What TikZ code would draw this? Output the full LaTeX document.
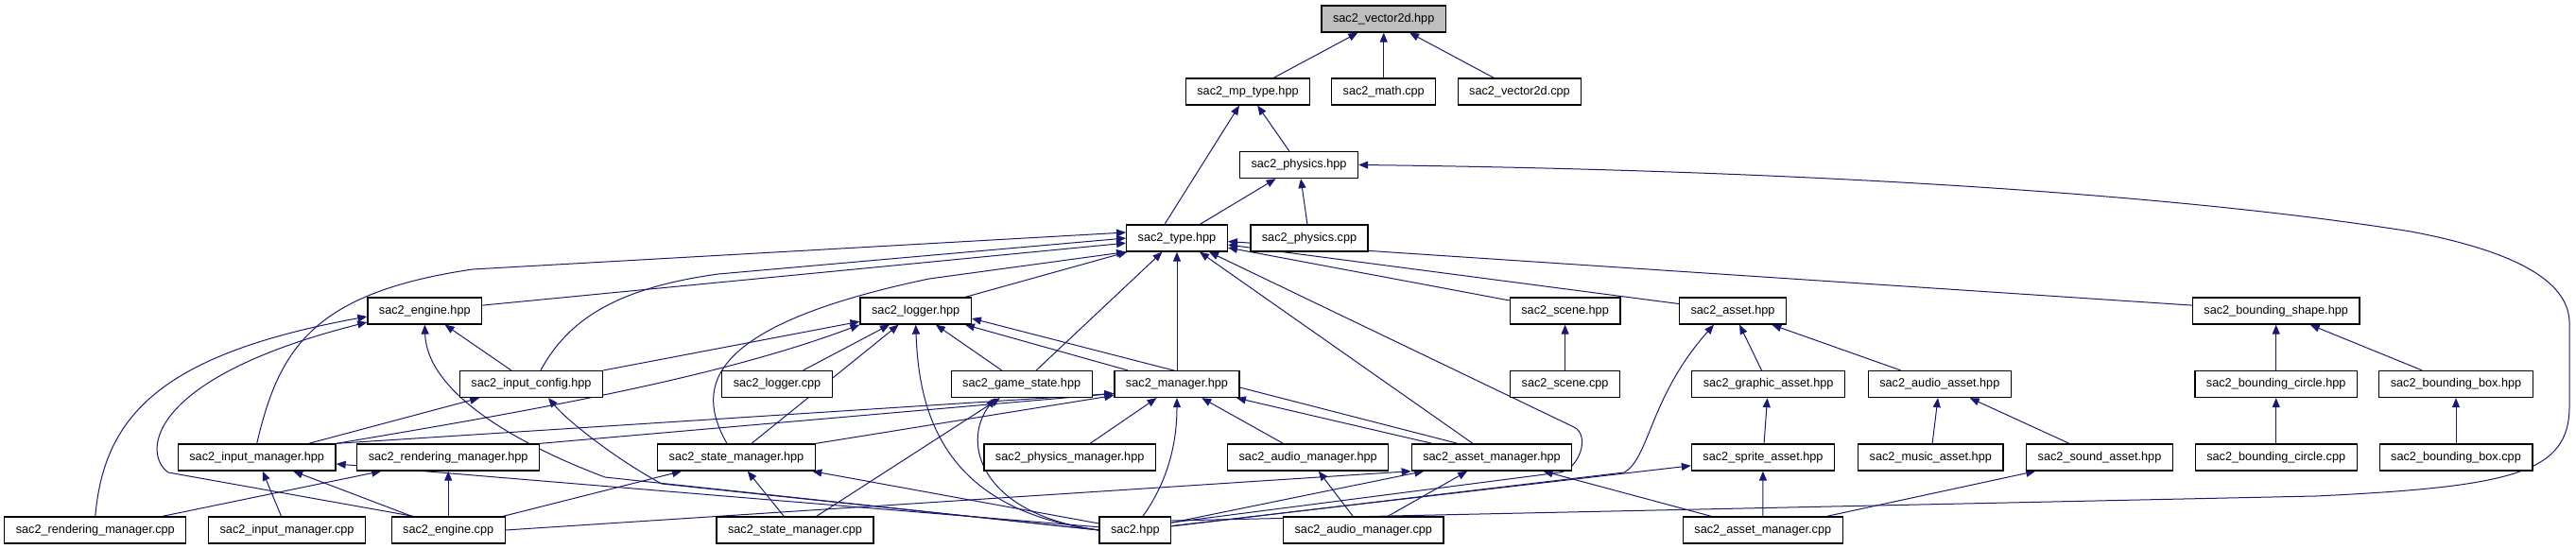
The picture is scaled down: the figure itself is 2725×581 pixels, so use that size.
\documentclass[tikz,border=0pt]{standalone}
\usepackage{fontspec}
\setmainfont{Liberation Sans}
\usetikzlibrary{arrows.meta,backgrounds}

\definecolor{edgeblue}{RGB}{25,25,112}
\definecolor{rootgray}{RGB}{191,191,191}

\begin{document}
\begin{tikzpicture}[
  x=0.5pt, y=-0.5pt,
  file/.style={draw=black, line width=0.65pt, rectangle, fill=white,
               minimum height=14pt, inner xsep=6pt, inner ysep=0pt,
               font=\fontsize{6.35}{7.5}\selectfont},
  root/.style={file, fill=rootgray},
  arr/.style={-{Triangle[length=5pt,width=4pt]}, draw=edgeblue, line width=0.5pt}
]
\useasboundingbox (0,0) rectangle (2725,581);

%% ── nodes ───────────────────────────────────────────────────────────────
\node[root] (vec)   at (1463.7,20)  {sac2\_vector2d.hpp};

\node[file] (mpt)   at (1320,97)    {sac2\_mp\_type.hpp};
\node[file] (math)  at (1463.7,97)  {sac2\_math.cpp};
\node[file] (vcpp)  at (1607.5,97)  {sac2\_vector2d.cpp};

\node[file] (phys)  at (1374,174.5) {sac2\_physics.hpp};

\node[file] (typ)   at (1245,252)   {sac2\_type.hpp};
\node[file] (pcpp)  at (1385,252)   {sac2\_physics.cpp};

% headers under type
\node[file] (eng)   at (449.3,329)  {sac2\_engine.hpp};
\node[file] (log)   at (968.7,329)  {sac2\_logger.hpp};
\node[file] (scn)   at (1655.6,329) {sac2\_scene.hpp};
\node[file] (ast)   at (1833,329)   {sac2\_asset.hpp};
\node[file] (bshp)  at (2407.7,329) {sac2\_bounding\_shape.hpp};

\node[file] (icfg)  at (562,406.5)    {sac2\_input\_config.hpp};
\node[file] (lcpp)  at (822,406.5)    {sac2\_logger.cpp};
\node[file] (gst)   at (1080.7,406.5) {sac2\_game\_state.hpp};
\node[file] (mgr)   at (1245,406.5)   {sac2\_manager.hpp};
\node[file] (scpp)  at (1655.6,406.5) {sac2\_scene.cpp};
\node[file] (gast)  at (1870.6,406.5) {sac2\_graphic\_asset.hpp};
\node[file] (aast)  at (2051.8,406.5) {sac2\_audio\_asset.hpp};
\node[file] (bcir)  at (2407.7,406.5) {sac2\_bounding\_circle.hpp};
\node[file] (bbox)  at (2598,406.5)   {sac2\_bounding\_box.hpp};

% managers and assets
\node[file] (iman)  at (271.7,484)  {sac2\_input\_manager.hpp};
\node[file] (rman)  at (474.2,484)  {sac2\_rendering\_manager.hpp};
\node[file] (sman)  at (779,484)    {sac2\_state\_manager.hpp};
\node[file] (pman)  at (1131.7,484) {sac2\_physics\_manager.hpp};
\node[file] (aman)  at (1383.7,484) {sac2\_audio\_manager.hpp};
\node[file] (asman) at (1578,484)   {sac2\_asset\_manager.hpp};
\node[file] (spr)   at (1865,484)   {sac2\_sprite\_asset.hpp};
\node[file] (mus)   at (2042.3,484) {sac2\_music\_asset.hpp};
\node[file] (snd)   at (2221,484)   {sac2\_sound\_asset.hpp};
\node[file] (bccpp) at (2407.7,484) {sac2\_bounding\_circle.cpp};
\node[file] (bbcpp) at (2598,484)   {sac2\_bounding\_box.cpp};

% bottom row
\node[file] (rmcpp)  at (100.8,561)  {sac2\_rendering\_manager.cpp};
\node[file] (imcpp)  at (303.6,561)  {sac2\_input\_manager.cpp};
\node[file] (ecpp)   at (474.2,561)  {sac2\_engine.cpp};
\node[file] (smcpp)  at (841,561)    {sac2\_state\_manager.cpp};
\node[file] (sac)    at (1200.9,561) {sac2.hpp};
\node[file] (amcpp)  at (1442.3,561) {sac2\_audio\_manager.cpp};
\node[file] (asmcpp) at (1864.8,561) {sac2\_asset\_manager.cpp};

%% ── edges ───────────────────────────────────────────────────────────────
\begin{scope}[on background layer]
% top
\draw[arr] (mpt)  -- (vec);
\draw[arr] (math) -- (vec);
\draw[arr] (vcpp) -- (vec);
\draw[arr] ([xshift=-6.5pt]typ.north) -- ([xshift=-4.5pt]mpt.south);
\draw[arr] (phys) -- (mpt);
\draw[arr] (typ)  -- (phys);
\draw[arr] (pcpp) -- (phys);

% into type
\draw[arr] (eng) -- (typ);
\draw[arr] (iman.north) .. controls (295,370) and (330,310) .. (500,285)
           -- ([yshift=3pt]typ.west);
\draw[arr] ([xshift=5pt]icfg.north) .. controls (600,340) and (650,305) .. (760,290)
           -- (typ.west);
\draw[arr] ([xshift=-5pt]sman.north) .. controls (735,410) and (745,345) .. (983,295)
           -- (typ.south west);
\draw[arr] (log) -- (typ);
\draw[arr] (gst) -- (typ);
\draw[arr] (mgr) -- (typ);
\draw[arr] ([xshift=-10pt]asman.north) -- ([xshift=12pt]typ.south);
\draw[arr] ([yshift=4pt]sac.east) -- (1650,500) .. controls (1670,497) and (1683,461) .. (1665,452)
           -- ([xshift=17pt]typ.south);
\draw[arr] (scn)  -- (typ);
\draw[arr] (ast)  -- (typ);
\draw[arr] (bshp) -- (typ);

% logger
\draw[arr] (icfg) -- (log);
\draw[arr] (iman.north east) .. controls (560,435) and (760,400) .. (log.south west);
\draw[arr] (lcpp) -- (log);
\draw[arr] ([xshift=8pt]sman.north) -- (log);
\draw[arr] (gst) -- (log);
\draw[arr] (mgr) -- (log);
\draw[arr] ([xshift=-18pt]asman.north) -- ([yshift=-4pt]log.east);
\draw[arr] (sac.west) .. controls (1000,540) and (972,440) .. (log.south);

% engine
\draw[arr] (icfg) -- (eng);
\draw[arr] (rmcpp.north) .. controls (110,440) and (170,375) .. ([yshift=-3pt]eng.west);
\draw[arr] ([xshift=-18.5pt]ecpp.north) -- (178,500)
           .. controls (150,480) and (155,400) .. ([yshift=-6pt]eng.west);
\draw[arr] (sac.west) -- (640,505) .. controls (560,475) and (452,420) .. (eng.south);

% input config
\draw[arr] (iman) -- (icfg);
\draw[arr] (sac.west) -- (700,512) .. controls (650,485) and (600,445) .. ([xshift=9pt]icfg.south);

% manager
\draw[arr] (iman.north east) -- ([yshift=-5pt]mgr.west);
\draw[arr] (rman.north east) -- ([yshift=-5pt]mgr.west);
\draw[arr] (sman.north east) -- ([yshift=-6pt]mgr.west);
\draw[arr] (pman)  -- (mgr);
\draw[arr] (aman)  -- (mgr);
\draw[arr] (asman) -- (mgr);
\draw[arr] ([xshift=4pt]sac.north) .. controls (1235,510) and (1245,470) .. (mgr.south);

% game state
\draw[arr] (smcpp) -- (gst);
\draw[arr] (sac.west) .. controls (1040,545) and (1015,470) .. ([xshift=-14pt]gst.south);

% state, input, rendering managers
\draw[arr] (ecpp)  -- (sman);
\draw[arr] (smcpp) -- (sman);
\draw[arr] (sac)   -- (sman);
\draw[arr] (imcpp) -- (iman);
\draw[arr] (ecpp)  -- (iman);
\draw[arr] (sac)   -- (iman);
\draw[arr] (rmcpp) -- (rman);
\draw[arr] (ecpp)  -- (rman);

% asset + audio managers
\draw[arr] (ecpp.east) -- (asman.south west);
\draw[arr] (sac)    -- (asman);
\draw[arr] (amcpp)  -- (asman);
\draw[arr] (asmcpp) -- (asman);
\draw[arr] (amcpp)  -- (aman);

% assets
\draw[arr] (sac)    -- (spr);
\draw[arr] (asmcpp) -- (spr);
\draw[arr] (asmcpp) -- (snd);
\draw[arr] (spr)  -- (gast);
\draw[arr] (gast) -- (ast);
\draw[arr] (aast) -- (ast);
\draw[arr] (mus)  -- (aast);
\draw[arr] (snd)  -- (aast);
\draw[arr] ([yshift=2pt]sac.east) -- (1718,500) .. controls (1745,485) and (1745,420)
           .. ([xshift=-10pt]ast.south);

% scene, bounding shapes
\draw[arr] (scpp)  -- (scn);
\draw[arr] (bcir)  -- (bshp);
\draw[arr] (bbox)  -- (bshp);
\draw[arr] (bccpp) -- (bcir);
\draw[arr] (bbcpp) -- (bbox);

% sac2.hpp -> physics (round the right edge)
\draw[arr] ([yshift=5pt]sac.east) -- (2450,525) .. controls (2660,515) and (2718,500) .. (2718,430)
           -- (2718,340) .. controls (2716,290) and (2640,262) .. (2550,245)
           .. controls (2300,205) and (1900,180) .. (phys.east);
\end{scope}

\end{tikzpicture}
\end{document}
